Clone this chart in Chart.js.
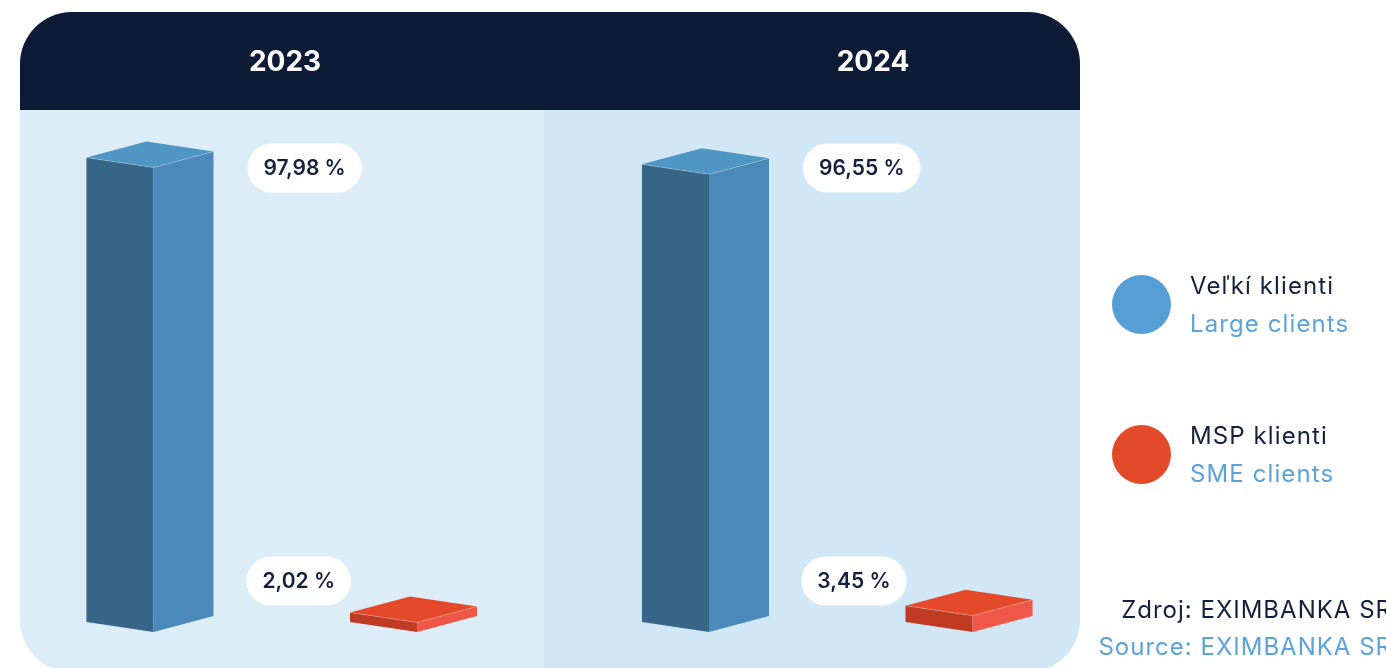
<!DOCTYPE html>
<html>
<head>
<meta charset="utf-8">
<script src="https://cdn.jsdelivr.net/npm/chart.js@4"></script>
<style>
  html, body { margin: 0; padding: 0; background: #fff; overflow: hidden; }
  body { width: 1386px; height: 668px; position: relative; font-family: Inter, "Noto Sans", sans-serif; }
  #chart { position: absolute; left: 0; top: 0; }
  .year { position: absolute; top: 44px; color: #fff; font-weight: 700; font-size: 28px; transform: translateX(-50%); }
  .legend { position: absolute; left: 1112px; }
  .legend .dot { position: absolute; left: 0; width: 59px; height: 59px; border-radius: 50%; }
  .legend .txt { position: absolute; left: 78px; font-size: 24px; letter-spacing: 1.1px; line-height: 38px; white-space: nowrap; }
  .sk { color: #14213d; }
  .en { color: #5ba3db; }
  .source { position: absolute; right: -6px; font-size: 24px; letter-spacing: 1px; white-space: nowrap; text-align: right; }
</style>
</head>
<body>
<canvas id="chart" width="1386" height="668"></canvas>
<div class="year" style="left:285px">2023</div>
<div class="year" style="left:873px">2024</div>

<div class="legend" style="top:275px">
  <div class="dot" style="background:#559ed6"></div>
  <div class="txt" style="top:-8px"><span class="sk">Veľkí klienti</span><br><span class="en">Large clients</span></div>
</div>
<div class="legend" style="top:425px">
  <div class="dot" style="background:#e24a2a"></div>
  <div class="txt" style="top:-8px"><span class="sk">MSP klienti</span><br><span class="en">SME clients</span></div>
</div>

<div class="source sk" style="top:595px">Zdroj: EXIMBANKA SR</div>
<div class="source en" style="top:632px">Source: EXIMBANKA SR</div>

<script>
const years = ['2023', '2024'];
const largeClients = [97.98, 96.55];
const smeClients = [2.02, 3.45];

const fmt = v => v.toFixed(2).replace('.', ',') + ' %';

// colours for the three visible faces of each box
const faces = {
  large: { top: '#4f96c4', left: '#386688', right: '#4a89ba' },
  sme: { top: '#e44a2a', left: '#c13a24', right: '#ef5848' }
};

// panel behind the chart: dark header + two light halves
const panelPlugin = {
  id: 'panel',
  beforeDraw(chart) {
    const ctx = chart.ctx;
    const x0 = 20, x1 = 1080, y0 = 12, y1 = 672, r = 52, mid = 544;
    ctx.save();
    ctx.beginPath();
    ctx.roundRect(x0, y0, x1 - x0, y1 - y0, r);
    ctx.clip();
    ctx.fillStyle = '#ddedf8';
    ctx.fillRect(x0, y0, mid - x0, y1 - y0);
    ctx.fillStyle = '#d1e7f5';
    ctx.fillRect(mid, y0, x1 - mid, y1 - y0);
    ctx.fillStyle = '#0d1b36';
    ctx.fillRect(x0, y0, x1 - x0, 98);
    ctx.restore();
  }
};

function pill(ctx, cx, cy, text) {
  ctx.font = '600 21px Inter, sans-serif';
  const w = ctx.measureText(text).width + 32, h = 49;
  ctx.fillStyle = '#ffffff';
  ctx.beginPath();
  ctx.roundRect(cx - w / 2, cy - h / 2, w, h, h / 2);
  ctx.fill();
  ctx.fillStyle = '#14213d';
  ctx.textAlign = 'center';
  ctx.textBaseline = 'middle';
  ctx.fillText(text, cx, cy + 1);
  return w;
}

// draws each bar as a 3d box using the element's x / y / base / width
const boxPlugin = {
  id: 'boxes',
  afterDatasetsDraw(chart) {
    const ctx = chart.ctx;
    chart.data.datasets.forEach((ds, di) => {
      const meta = chart.getDatasetMeta(di);
      const col = faces[ds.key];
      meta.data.forEach((bar, i) => {
        const { x, y, base, width } = bar.getProps(['x', 'y', 'base', 'width'], true);
        const l = x - width / 2, r = x + width / 2, f = l + width * 0.528;
        const dl = 10, dr = 16;
        ctx.save();
        // left face
        ctx.fillStyle = col.left;
        ctx.beginPath();
        ctx.moveTo(l, y - dl); ctx.lineTo(f, y); ctx.lineTo(f, base); ctx.lineTo(l, base - dl);
        ctx.closePath(); ctx.fill();
        // right face
        ctx.fillStyle = col.right;
        ctx.beginPath();
        ctx.moveTo(f, y); ctx.lineTo(r, y - dr); ctx.lineTo(r, base - dr); ctx.lineTo(f, base);
        ctx.closePath(); ctx.fill();
        // top face
        ctx.fillStyle = col.top;
        ctx.beginPath();
        ctx.moveTo(l, y - dl); ctx.lineTo(f, y); ctx.lineTo(r, y - dr); ctx.lineTo(l + (r - f), y - dl - dr);
        ctx.closePath(); ctx.fill();
        ctx.strokeStyle = 'rgba(255,255,255,0.25)';
        ctx.lineWidth = 1;
        ctx.beginPath();
        ctx.moveTo(l, y - dl); ctx.lineTo(f, y); ctx.lineTo(r, y - dr);
        ctx.stroke();
        ctx.restore();

        // value label
        ctx.save();
        const text = fmt(ds.data[i]);
        ctx.font = '600 21px Inter, sans-serif';
        const w = ctx.measureText(text).width + 32;
        if (ds.key === 'large') {
          pill(ctx, r + 34 + w / 2, chart.chartArea.top + 10, text);
        } else {
          pill(ctx, l + 1 - w / 2, base - 51, text);
        }
        ctx.restore();
      });
    });
  }
};

new Chart(document.getElementById('chart'), {
  type: 'bar',
  data: {
    labels: years,
    datasets: [
      { key: 'large', label: 'Veľkí klienti', data: largeClients, backgroundColor: 'rgba(0,0,0,0)' },
      { key: 'sme', label: 'MSP klienti', data: smeClients, backgroundColor: 'rgba(0,0,0,0)' }
    ]
  },
  options: {
    responsive: false,
    devicePixelRatio: 1,
    animation: false,
    barPercentage: 0.482,
    categoryPercentage: 0.949,
    layout: { padding: { left: 4, right: 271, top: 158, bottom: 36 } },
    scales: {
      x: { display: false },
      y: { display: false, min: 0, max: 100 }
    },
    plugins: { legend: { display: false }, tooltip: { enabled: false } }
  },
  plugins: [panelPlugin, boxPlugin]
});
</script>
</body>
</html>
